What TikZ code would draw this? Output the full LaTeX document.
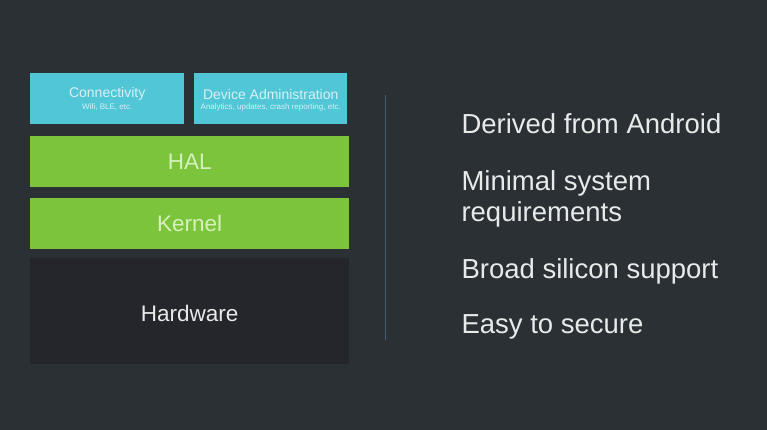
\documentclass[tikz,border=0pt]{standalone}
\usepackage{fontspec}
\setmainfont{Liberation Sans}
\definecolor{slidebg}{RGB}{42, 48, 52}
\definecolor{layercyan}{RGB}{80, 198, 214}
\definecolor{layergreen}{RGB}{124, 196, 60}
\definecolor{hwdark}{RGB}{36, 38, 43}
\definecolor{dividerblue}{RGB}{66, 94, 112}
\definecolor{softwhite}{RGB}{232, 234, 234}
\definecolor{palegreen}{RGB}{214, 240, 190}
\definecolor{palecyan}{RGB}{215, 242, 246}

\begin{document}
\begin{tikzpicture}[x=1pt, y=-1pt,
    layer/.style={rectangle, inner sep=0pt, anchor=north west},
    toplayer/.style={layer, fill=layercyan, minimum width=154pt, minimum height=51pt},
    midlayer/.style={layer, fill=layergreen, minimum width=319pt, minimum height=51pt},
    bigtitle/.style={font=\fontsize{22.5}{26}\selectfont},
    point/.style={anchor=west, text=softwhite, font=\fontsize{27.5}{31}\selectfont, align=left}]
        \fill[slidebg] (0,0) rectangle (767,430);
        \useasboundingbox (0,0) rectangle (767,430);
        % stack of layers
        \node[toplayer] (conn) at (30,73) {};
        \node[toplayer, minimum width=153pt] (devadm) at (194,73) {};
        \node[midlayer] (hal) at (30,136) {};
        \node[midlayer] (kernel) at (30,198) {};
        \node[layer, fill=hwdark, minimum width=319pt, minimum height=106pt] (hw) at (30,258) {};
        % labels
        \node[text=palecyan, font=\fontsize{14}{15}\selectfont] at ([yshift=4.5pt]conn.center) {Connectivity};
        \node[text=palecyan, font=\fontsize{8}{9}\selectfont] at ([yshift=-8.5pt]conn.center) {Wifi, BLE, etc.};
        \node[text=palecyan, font=\fontsize{14}{15}\selectfont] at ([yshift=4.5pt]devadm.center) {Device Administration};
        \node[text=palecyan, font=\fontsize{8}{9}\selectfont] at ([yshift=-8.5pt]devadm.center) {Analytics, updates, crash reporting, etc.};
        \node[text=palegreen, bigtitle] at (hal.center) {HAL};
        \node[text=palegreen, bigtitle] at (kernel.center) {Kernel};
        \node[text=softwhite, bigtitle] at ([yshift=-2pt]hw.center) {Hardware};
        % divider
        \coordinate (divtop) at (385,95);
        \coordinate (divbot) at (385,340);
        \draw[dividerblue, line width=1pt] (divtop) -- (divbot);
        % key points
        \node[point] (derived) at (458,124) {Derived from Android};
        \node[point] (minimal) at (458,199) {Minimal system\\requirements};
        \node[point] (silicon) at (458,271.5) {Broad silicon support};
        \node[point] (secure) at (458,326.5) {Easy to secure};
      \end{tikzpicture}
\end{document}
